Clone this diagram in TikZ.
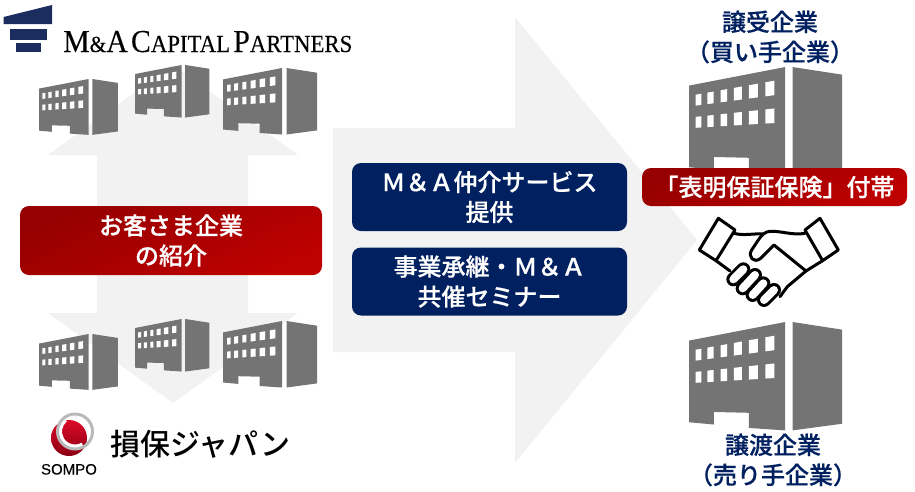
\documentclass[tikz,border=0pt]{standalone}
\usepackage{fontspec}
\usepackage{xcolor}
\setmainfont{Noto Sans CJK JP Medium}[FakeBold=0.5]
\newfontfamily\japanfont{Noto Sans CJK JP Medium}
\newfontfamily\logofont{Liberation Serif}[FakeBold=0.2]
\newfontfamily\sompofont{Liberation Sans}[FakeBold=0.2]
\usetikzlibrary{shapes.geometric, positioning}

\definecolor{arrowgray}{HTML}{F2F2F2}
\definecolor{officegray}{HTML}{747474}
\definecolor{navyblue}{HTML}{002060}
\definecolor{logonavy}{HTML}{1B2C5E}
\definecolor{darkred}{HTML}{960000}
\definecolor{mainred}{HTML}{BE0000}
\definecolor{sompored}{HTML}{DC0A28}
\definecolor{somporeddark}{HTML}{8C0014}

\tikzset{pics/office/.style={code={
    \fill[officegray] (0,11.4) -- (59,0) -- (59,66.5) -- (36.7,65) -- (36.7,55.7) -- (15.3,55.2) -- (15.3,62.9) -- (0,61.5) -- cycle;
    \fill[officegray] (63.5,0) -- (94,4.7) -- (94,62.4) -- (63.5,66.5) -- cycle;
    \foreach \wl/\ww in {4.1/3.5,11.2/3.9,19.4/4,27.5/5,36.7/5.5,46.9/5.5}{
        \fill[white] (\wl,{17-(\wl-4.1)*.178}) -- (\wl+\ww,{17-(\wl+\ww-4.1)*.178}) -- (\wl+\ww,{23.7-(\wl+\ww-4.1)*.133}) -- (\wl,{23.7-(\wl-4.1)*.133}) -- cycle;
        \fill[white] (\wl,{30.6-(\wl-4.1)*.107}) -- (\wl+\ww,{30.6-(\wl+\ww-4.1)*.107}) -- (\wl+\ww,{37.3-(\wl+\ww-4.1)*.061}) -- (\wl,{37.3-(\wl-4.1)*.061}) -- cycle;
    }
}}}

\begin{document}
\begin{tikzpicture}[x=1pt, y=-1pt, node distance=85pt, auto]
        \tikzstyle{redblock} = [rectangle, left color=darkred, middle color=mainred, right color=mainred, shading angle=25, text=white, text centered, rounded corners=9pt, inner sep=0pt, font=\fontsize{24}{30}\selectfont]
        \tikzstyle{blueblock} = [rectangle, fill=navyblue, text=white, text width=275pt, minimum height=68pt, text centered, rounded corners=9pt, inner sep=0pt, font=\fontsize{24}{30}\selectfont]
        \tikzstyle{partylabel} = [text=navyblue, text width=180pt, text centered, inner sep=0pt, font=\fontsize{24}{30}\selectfont]
        \tikzstyle{hand} = [draw=black, line width=3pt, line join=round, line cap=round]

        \useasboundingbox (0,0) rectangle (915,491);

        % Arrows
        \fill[arrowgray] (333,128) -- (515,128) -- (515,17) -- (697,240) -- (515,463) -- (515,352) -- (333,352) -- cycle;
        \fill[arrowgray] (173,65) -- (298,155) -- (248,155) -- (248,313) -- (298,313) -- (173,403) -- (48,313) -- (97,313) -- (97,155) -- (48,155) -- cycle;

        % Offices
        \pic[xscale=.84, yscale=.84] at (39,79) {office};
        \pic[xscale=.79, yscale=.79] at (135,65) {office};
        \pic at (223,68) {office};
        \pic[xscale=.84, yscale=.84] at (39,334) {office};
        \pic[xscale=.79, yscale=.79] at (135,319) {office};
        \pic at (223,321) {office};
        \pic[xscale=1.63, yscale=1.63] at (689,67) {office};
        \pic[xscale=1.63, yscale=1.63] at (689,322) {office};

        % Nodes
        \node [redblock, text width=302pt, minimum height=69pt] (intro) at (171,240.5) {お客さま企業 \\ の紹介};
        \node [blueblock] (service) at (489.5,197) {Ｍ＆Ａ仲介サービス \\ 提供};
        \node [blueblock, below of=service, yshift=0.5pt] (seminar) {事業承継・Ｍ＆Ａ \\ 共催セミナー};
        \node [redblock, text width=265pt, minimum height=38pt] (warranty) at (774.5,187) {「表明保証保険」付帯};
        \node [partylabel] (buyer) at (770,37) {譲受企業 \\ （買い手企業）};
        \node [partylabel] (seller) at (773,460) {譲渡企業 \\ （売り手企業）};

        % M&A logo
        \fill[logonavy] (3.5,17) -- (52,5) -- (52,24) -- (3.5,24) -- cycle;
        \fill[logonavy] (9.5,29) rectangle (46.5,40);
        \fill[logonavy] (16,43) rectangle (40.5,52);
        \node [anchor=base west, inner sep=0pt, xscale=.93] (macp) at (63,52) {\logofont\fontsize{32}{32}\selectfont M{\fontsize{23}{23}\selectfont\&}A\hspace{3.5pt}C{\fontsize{24.5}{24.5}\selectfont APITAL}\hspace{3.5pt}P{\fontsize{24.5}{24.5}\selectfont ARTNERS}};

        % Sompo logo
        \shade[top color=sompored, bottom color=somporeddark] (69,438) circle (18);
        \draw[white, line width=4pt] (75,431.5) ++(60:15) arc (60:230:15);
        \draw[gray!55, line width=3pt] (75,431.5) circle (17.5);
        \node [anchor=base, inner sep=0pt] (sompo) at (69,474.5) {\sompofont\fontsize{15}{15}\selectfont SOMPO};
        \node [anchor=west, inner sep=0pt, font=\fontsize{30}{30}\selectfont\japanfont] (japan) at (110,444) {損保ジャパン};

        % Handshake
        \begin{scope}[shift={(630,70)}, x=.3333pt, y=-.3333pt]
            \draw[hand] (265,445) -- (315,480) -- (258,572) -- (208,540) -- cycle;
            \draw[hand] (570,445) -- (625,540) -- (578,572) -- (525,480) -- cycle;
            \draw[hand] (312,490) .. controls (340,498) and (370,490) .. (398,492);
            \draw[hand] (525,490) .. controls (490,497) and (450,482) .. (420,484) .. controls (405,485) and (395,495) .. (385,510) -- (365,540) .. controls (352,560) and (372,582) .. (392,565) -- (432,525) -- (528,603) -- (578,572);
            \draw[hand] (258,572) -- (300,603);
            \draw[hand] (528,603) -- (472,650) -- (450,680);
            \foreach \ax/\ay/\bx/\by in {310/628/340/598,338/655/375/615,368/675/400/640,402/690/432/660}{
                \draw[black, line width=14pt, line cap=round] (\ax,\ay) -- (\bx,\by);
                \draw[white, line width=8pt, line cap=round] (\ax,\ay) -- (\bx,\by);
            }
        \end{scope}
    \end{tikzpicture}
\end{document}
